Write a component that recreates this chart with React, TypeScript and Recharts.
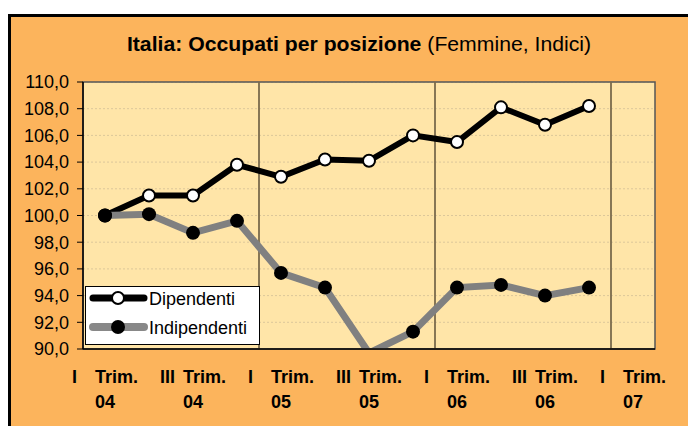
import React from "react";
import {
  LineChart,
  Line,
  XAxis,
  YAxis,
  CartesianGrid,
  ReferenceLine,
  ReferenceArea,
} from "recharts";

const quarters = [
  "I Trim. 04", "II Trim. 04", "III Trim. 04", "IV Trim. 04",
  "I Trim. 05", "II Trim. 05", "III Trim. 05", "IV Trim. 05",
  "I Trim. 06", "II Trim. 06", "III Trim. 06", "IV Trim. 06",
  "I Trim. 07",
];
const dipendenti = [100.0, 101.5, 101.5, 103.8, 102.9, 104.2, 104.1, 106.0, 105.5, 108.1, 106.8, 108.2, null];
const indipendenti = [100.0, 100.1, 98.7, 99.6, 95.7, 94.6, 89.7, 91.3, 94.6, 94.8, 94.0, 94.6, null];
const yTicks = [90, 92, 94, 96, 98, 100, 102, 104, 106, 108, 110];
const xTicks = [0, 2, 4, 6, 8, 10, 12];
const yearBoundaries = [3.5, 7.5, 11.5];
const seriesNames = ["Dipendenti", "Indipendenti"];

const FONT = '"Liberation Sans", Arial, Helvetica, sans-serif';
const ORANGE = "#FCB45C";
const PLOT = "#FFE5A8";

const data = quarters.map((q, i) => ({
  idx: i,
  label: q,
  dip: dipendenti[i],
  ind: indipendenti[i],
}));

const XTick = (props: any) => {
  const { x, y, payload } = props;
  const label: string = quarters[payload.value] || "";
  const parts = label.split(" ");
  const roman = parts[0];
  const trim = parts[1];
  const year = parts[2];
  return (
    <g fontFamily={FONT} fontSize={18} fontWeight="bold" fill="#000">
      <text x={x - 33} y={y + 34} textAnchor="start">{roman}</text>
      <text x={x + 33} y={y + 34} textAnchor="end">{trim}</text>
      <text x={x} y={y + 59} textAnchor="middle">{year}</text>
    </g>
  );
};

const DipDot = (props: any) => {
  const { cx, cy, value, index } = props;
  if (value == null || value < 90 || cx == null) return <g key={"d" + index} />;
  return <circle key={"d" + index} cx={cx} cy={cy} r={6} fill="#fff" stroke="#000" strokeWidth={2} />;
};

const IndDot = (props: any) => {
  const { cx, cy, value, index } = props;
  if (value == null || value < 90 || cx == null) return <g key={"i" + index} />;
  return <circle key={"i" + index} cx={cx} cy={cy} r={7} fill="#000" />;
};

const LegendBox = () => (
  <svg width={175} height={59} style={{ display: "block" }}>
    <rect x={0.5} y={0.5} width={174} height={58} fill="#fff" stroke="#000" strokeWidth={1} />
    <line x1={8} y1={12} x2={59} y2={12} stroke="#000" strokeWidth={7} strokeLinecap="round" />
    <circle cx={33} cy={12} r={6} fill="#fff" stroke="#000" strokeWidth={2} />
    <text x={64} y={18.5} fontFamily={FONT} fontSize={18} fill="#000">{seriesNames[0]}</text>
    <line x1={8} y1={41} x2={59} y2={41} stroke="#888" strokeWidth={8} strokeLinecap="round" />
    <circle cx={33} cy={41} r={7} fill="#000" />
    <text x={64} y={47.5} fontFamily={FONT} fontSize={18} fill="#000">{seriesNames[1]}</text>
  </svg>
);

export default function App() {
  return (
    <div
      style={{
        marginTop: 6,
        width: 688,
        height: 412,
        boxSizing: "border-box",
        borderLeft: "3px solid #000",
        borderTop: "3px solid #000",
        background: ORANGE,
        position: "relative",
        overflow: "hidden",
        fontFamily: FONT,
      }}
    >
      <div
        style={{
          position: "absolute",
          left: 11,
          top: 17,
          width: 674,
          textAlign: "center",
          fontSize: 20,
          lineHeight: "20px",
          color: "#000",
          whiteSpace: "nowrap",
          transform: "scaleX(1.06)",
          transformOrigin: "337px 10px",
        }}
      >
        <span style={{ fontWeight: "bold" }}>Italia: Occupati per posizione</span>{" "}
        <span>(Femmine, Indici)</span>
      </div>
      <div style={{ position: "absolute", left: 0, top: 0 }}>
        <LineChart
          width={685}
          height={409}
          data={data}
          margin={{ top: 65, right: 41, bottom: 17, left: 12 }}
        >
          <CartesianGrid
            vertical={false}
            fill={PLOT}
            stroke="#DCC79A"
            strokeDasharray="2 2"
            horizontalValues={yTicks}
          />
          <XAxis
            dataKey="idx"
            type="number"
            domain={[-0.5, 12.5]}
            ticks={xTicks}
            interval={0}
            tickLine={false}
            tickSize={0}
            tickMargin={0}
            height={60}
            axisLine={{ stroke: "#000", strokeWidth: 1.5 }}
            tick={<XTick />}
            allowDataOverflow
          />
          <YAxis
            type="number"
            domain={[90, 110]}
            ticks={yTicks}
            interval={0}
            allowDataOverflow
            width={60}
            tickSize={6}
            tickMargin={8}
            tickLine={{ stroke: "#000" }}
            axisLine={{ stroke: "#000", strokeWidth: 1.5 }}
            tickFormatter={(v: number) => v.toFixed(1).replace(".", ",")}
            tick={{ fontFamily: FONT, fontSize: 18, fill: "#000" }}
          />
          <ReferenceArea
            x1={-0.5}
            x2={12.5}
            y1={90}
            y2={110}
            fill="none"
            stroke="#555"
            strokeWidth={1.5}
            ifOverflow="visible"
          />
          {yearBoundaries.map((b) => (
            <ReferenceLine key={b} x={b} stroke="#7A6A4C" strokeWidth={1.8} />
          ))}
          <Line
            dataKey="dip"
            name={seriesNames[0]}
            stroke="#000"
            strokeWidth={6}
            dot={<DipDot />}
            activeDot={false}
            isAnimationActive={false}
            connectNulls={false}
          />
          <Line
            dataKey="ind"
            name={seriesNames[1]}
            stroke="#808080"
            strokeWidth={7}
            dot={<IndDot />}
            activeDot={false}
            isAnimationActive={false}
            connectNulls={false}
          />
        </LineChart>
      </div>
      <div style={{ position: "absolute", left: 74, top: 269 }}>
        <LegendBox />
      </div>
    </div>
  );
}
